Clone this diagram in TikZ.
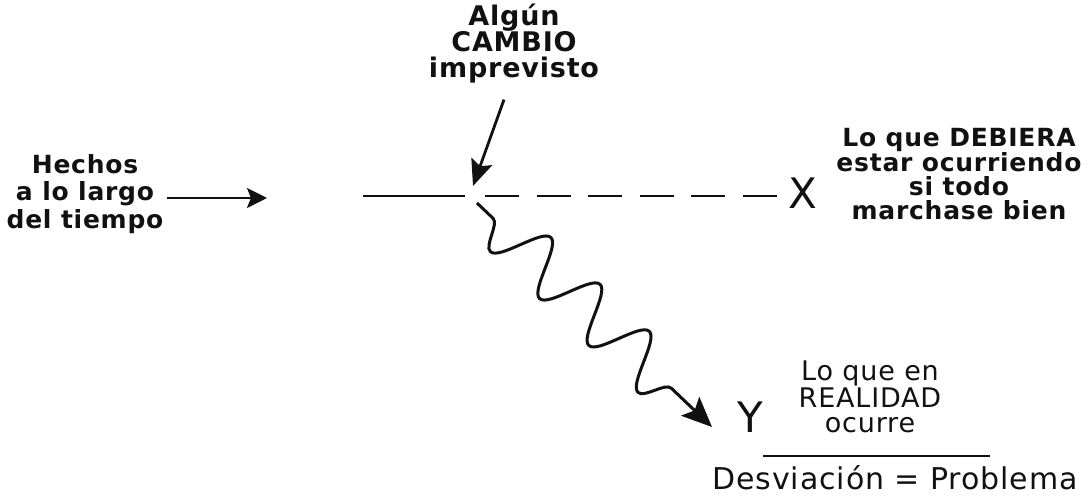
\documentclass[tikz,border=0pt]{standalone}
\usepackage{fontspec}
\setmainfont[LetterSpace=3]{DejaVu Sans}
\usetikzlibrary{arrows.meta,positioning,decorations.pathmorphing}
\definecolor{Ink}{HTML}{111111}
\tikzset{
  arr/.style={-{Stealth[length=20pt,width=20pt,inset=4pt]},line width=2.5pt,draw=Ink},
  bigarr/.style={-{Stealth[length=26pt,width=22pt,inset=5pt]},line width=2.8pt,draw=Ink},
  wavearr/.style={-{Stealth[length=30pt,width=26pt,inset=6pt]},line width=3pt,draw=Ink,
    decorate,decoration={snake,mirror,segment length=68pt,amplitude=26pt,pre length=22pt,post length=45pt}},
  timeline/.style={line width=2.4pt,draw=Ink},
  dashline/.style={line width=2.4pt,draw=Ink,dash pattern=on 34pt off 17.6pt},
  toplbl/.style={align=center,inner sep=0pt,text=Ink,font=\fontsize{25}{24}\selectfont\bfseries},
  lowlbl/.style={align=center,inner sep=0pt,text=Ink,font=\fontsize{27}{25}\selectfont},
  letter/.style={inner sep=0pt,text=Ink,font=\fontsize{42}{42}\selectfont}
}
\begin{document}
\begin{tikzpicture}[x=1pt,y=1pt]
  \useasboundingbox (0,0) rectangle (1092,497);
  \node[toplbl,anchor=north,font=\fontsize{25}{27.5}\selectfont\bfseries] (hechos) at (85,343) {Hechos\\a lo largo\\del tiempo};
  \node[toplbl,anchor=north,font=\fontsize{27}{26}\selectfont\bfseries] (cambio) at (514,493) {Algún\\CAMBIO\\imprevisto};
  \node[toplbl,anchor=north] (debiera) at (959,369) {Lo que DEBIERA\\estar ocurriendo\\si todo\\marchase bien};
  \node[lowlbl,anchor=north] (realidad) at (870,136) {Lo que en\\REALIDAD\\ocurre};
  \node[lowlbl,anchor=base,font=\fontsize{30}{30}\selectfont] (desv) at (895,7) {Desviación = Problema};
  \node[letter] (x) at (803,304) {X};
  \node[letter] (y) at (750,80) {Y};
  \coordinate (timetip) at (267,299);
  \coordinate (linestart) at (363,301);
  \coordinate (change) at (475,301);
  \coordinate (dashend) at (777,301);
  \coordinate (wavetip) at (712,70);
  % time axis and the expected course
  \draw[arr] ([xshift=3pt]hechos.east |- timetip) -- (timetip);
  \draw[timeline] (linestart) -- ([xshift=-10pt]change);
  \draw[dashline] ([xshift=10pt]change) -- (dashend);
  % the change and the actual course
  \draw[bigarr] ([shift={(-10pt,-16pt)}]cambio.south) -- ([shift={(-2pt,10pt)}]change);
  \draw[wavearr] ([shift={(2pt,-7pt)}]change) -- (wavetip);
  \draw[timeline,line width=1.6pt] (763,41) -- (990,41);
\end{tikzpicture}
\end{document}
